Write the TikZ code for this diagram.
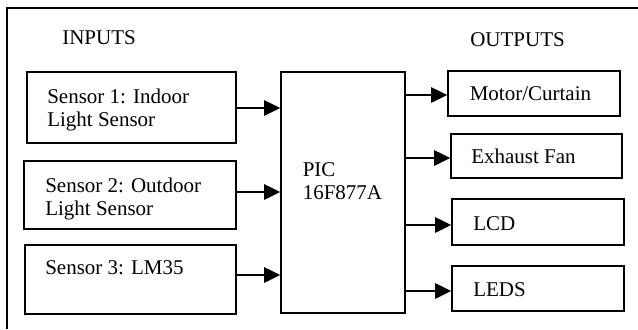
\documentclass[tikz,border=0pt]{standalone}
\usepackage{fontspec}
\setmainfont{Liberation Serif}
\usetikzlibrary{arrows.meta}
\begin{document}
\begin{tikzpicture}[x=0.75pt,y=-0.75pt,
  box/.style={draw,line width=1.2pt,inner sep=0pt},
  txt/.style={anchor=base west,inner sep=0pt,align=left,font=\fontsize{15.75}{17.25}\selectfont},
  arr/.style={line width=1.2pt,-{Triangle[length=12pt,width=11.5pt]}}]
\useasboundingbox (0,0) rectangle (638,329);
% outer frame (cropped)
\draw[line width=1.2pt] (7,329) -- (7,8) -- (638,8);
% boxes
\node[box,minimum width=209*0.75pt,minimum height=71*0.75pt] (s1) at (131.5,107.5) {};
\node[box,minimum width=212*0.75pt,minimum height=68*0.75pt] (s2) at (130,195) {};
\node[box,minimum width=211*0.75pt,minimum height=69*0.75pt] (s3) at (130.5,279.5) {};
\node[box,minimum width=124*0.75pt,minimum height=241*0.75pt] (pic) at (343,192.5) {};
\node[box,minimum width=172*0.75pt,minimum height=45*0.75pt] (o1) at (534,93.5) {};
\node[box,minimum width=171*0.75pt,minimum height=44*0.75pt] (o2) at (536.5,156) {};
\node[box,minimum width=172*0.75pt,minimum height=46*0.75pt] (o3) at (538,222) {};
\node[box,minimum width=172*0.75pt,minimum height=45*0.75pt] (o4) at (538,288.5) {};
% texts (two-line nodes: base = last line's baseline)
\node[txt] (tin) at (62,44) {INPUTS};
\node[txt] (tout) at (470,46.5) {OUTPUTS};
\node[txt] (t1) at (47,126) {Sensor 1: Indoor\\Light Sensor};
\node[txt] (t2) at (45,215) {Sensor 2: Outdoor\\Light Sensor};
\node[txt] (t3) at (45,274) {Sensor 3: LM35};
\node[txt] (tp) at (302.5,199.5) {PIC\\16F877A};
\node[txt] (to1) at (469.5,100.5) {Motor/Curtain};
\node[txt] (to2) at (471,163.5) {Exhaust Fan};
\node[txt] (to3) at (473,230) {LCD};
\node[txt] (to4) at (473,296) {LEDS};
% input arrows
\coordinate (y1) at (0,108);
\coordinate (y2) at (0,192);
\coordinate (y3) at (0,275);
\draw[arr] (s1.east |- y1) -- (pic.west |- y1);
\draw[arr] (s2.east |- y2) -- (pic.west |- y2);
\draw[arr] (s3.east |- y3) -- (pic.west |- y3);
% output arrows
\coordinate (z1) at (0,95);
\coordinate (z2) at (0,158);
\coordinate (z3) at (0,225);
\coordinate (z4) at (0,291);
\draw[arr] (pic.east |- z1) -- (o1.west |- z1);
\draw[arr] (pic.east |- z2) -- (o2.west |- z2);
\draw[arr] (pic.east |- z3) -- (o3.west |- z3);
\draw[arr] (pic.east |- z4) -- (o4.west |- z4);
\end{tikzpicture}
\end{document}
